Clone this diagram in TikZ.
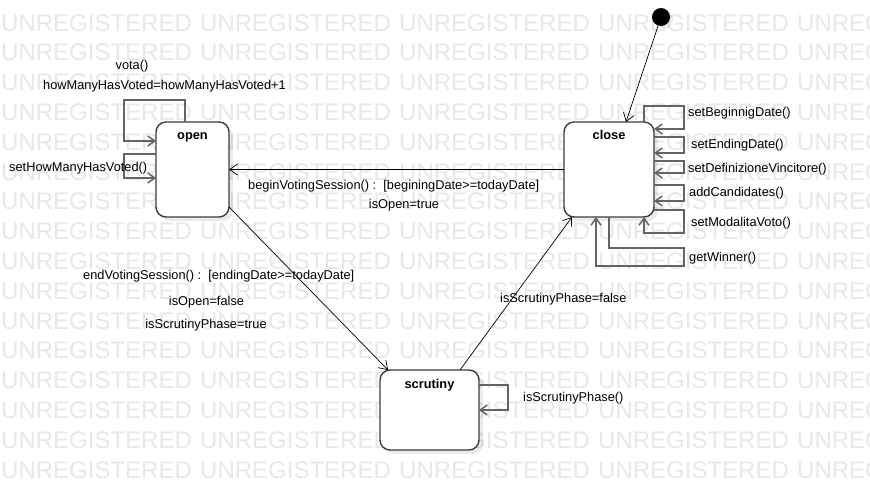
\documentclass[tikz,border=0pt]{standalone}
\usepackage{fontspec}
\setmainfont{Liberation Sans}
\usetikzlibrary{arrows.meta,calc,shadows}
\definecolor{wm}{RGB}{232,232,232}
\definecolor{boxline}{RGB}{60,60,60}
\definecolor{loopline}{RGB}{100,100,100}
\begin{document}
\begin{tikzpicture}[x=1pt,y=-1pt,
  wmark/.style={anchor=base west, inner sep=0pt, text=wm, font=\fontsize{24}{24}\selectfont},
  state/.style={draw=boxline, line width=1.4pt, rounded corners=10pt, fill=white, inner sep=0pt, outer sep=0pt,
    drop shadow={shadow xshift=4pt, shadow yshift=-4pt, opacity=0.08, fill=black}},
  stitle/.style={anchor=base, inner sep=0pt, font=\fontsize{12.8}{14}\selectfont\bfseries},
  lbl/.style={anchor=base west, inner sep=0pt, font=\fontsize{12.8}{14}\selectfont},
  clbl/.style={anchor=base, inner sep=0pt, font=\fontsize{12.8}{14}\selectfont},
  trans/.style={draw=black, line width=0.7pt, -{Straight Barb[length=8pt,width=11pt]}},
  selfloop/.style={draw=loopline, line width=1.5pt, -{Straight Barb[length=7pt,width=10pt]}}]
\useasboundingbox (0,0) rectangle (870,490);
\fill[white] (0,0) rectangle (870,490);
\begin{scope}
\clip (0,0) rectangle (870,490);
\foreach \r in {0,...,15}{
  \foreach \c in {0,...,4}{
    \node[wmark] (wm-\r-\c) at ({1+199*\c},{31+29.8*\r}) {UNREGISTERED};
  }
}
\end{scope}

% states
\node[state, minimum width=73pt, minimum height=95pt] (open) at (192.5,169.5) {};
\node[state, minimum width=90pt, minimum height=95pt] (close) at (609,169.5) {};
\node[state, minimum width=99pt, minimum height=80pt] (scrutiny) at (429.5,410) {};
\node[stitle] (openT) at (192.5,139) {open};
\node[stitle] (closeT) at (609,139) {close};
\node[stitle] (scrutinyT) at (429.5,388) {scrutiny};

% initial
\node[circle, fill=black, minimum size=18pt, inner sep=0pt,
  drop shadow={shadow xshift=3pt, shadow yshift=-3pt, opacity=0.08, fill=black}] (init) at (661,17) {};
\coordinate (closeIn) at ($(close.north west)+(62,0)$);
\draw[trans] (init) -- (closeIn);

% open self loops
\draw[selfloop] ($(open.north west)+(29,0)$) -- ++(0,-22) -- ++(-61,0) -- ++(0,41) -- ($(open.north west)+(0,19)$);
\draw[selfloop] ($(open.north west)+(0,32)$) -- ++(-32,0) -- ++(0,24) -- ($(open.north west)+(0,56)$);
\node[clbl] (lVota) at (132,69) {vota()};
\node[clbl] (lHow) at (164.5,89) {howManyHasVoted=howManyHasVoted+1};
\node[lbl] (lSetHow) at (9,171) {setHowManyHasVoted()};

% close self loops
\draw[selfloop] ($(close.north east)+(-10,0)$) -- ++(0,-16) -- ++(40,0) -- ++(0,23) -- ($(close.north east)+(0,7)$);
\draw[selfloop] ($(close.north east)+(0,15)$) -- ++(30,0) -- ++(0,16) -- ($(close.north east)+(0,31)$);
\draw[selfloop] ($(close.north east)+(0,39)$) -- ++(30,0) -- ++(0,12) -- ($(close.north east)+(0,51)$);
\draw[selfloop] ($(close.north east)+(0,63)$) -- ++(30,0) -- ++(0,16) -- ($(close.north east)+(0,79)$);
\draw[selfloop] ($(close.north east)+(0,88)$) -- ++(30,0) -- ++(0,23) -- ++(-40,0) -- ($(close.south east)+(-10,0)$);
\draw[selfloop] ($(close.south west)+(45,0)$) -- ++(0,31) -- ++(75,0) -- ++(0,18) -- ++(-88,0) -- ($(close.south west)+(32,0)$);
\node[lbl] (lSB) at (688,116) {setBeginnigDate()};
\node[lbl] (lSE) at (691,148.5) {setEndingDate()};
\node[lbl] (lSD) at (688,172.5) {setDefinizioneVincitore()};
\node[lbl] (lAC) at (689,196) {addCandidates()};
\node[lbl] (lSM) at (691,226.5) {setModalitaVoto()};
\node[lbl] (lGW) at (689,261.5) {getWinner()};

% scrutiny self loop
\draw[selfloop] ($(scrutiny.north east)+(0,15)$) -- ++(29,0) -- ++(0,25) -- ($(scrutiny.north east)+(0,40)$);
\node[lbl] (lISP) at (523,401.5) {isScrutinyPhase()};

% transitions
\draw[trans] (close.west) -- (open.east);
\node[lbl] (lBegin) at (248,189.5) {beginVotingSession() :\ \ [beginingDate>=todayDate]};
\node[clbl] (lOpenT) at (404,208) {isOpen=true};

\coordinate (openOut) at ($(open.south east)+(0,-10)$);
\coordinate (scrIn) at ($(scrutiny.north west)+(8,0)$);
\draw[trans] (openOut) -- (scrIn);
\node[lbl] (lEnd) at (83,279) {endVotingSession() :\ \ [endingDate>=todayDate]};
\node[clbl] (lOpenF) at (206.5,305) {isOpen=false};
\node[clbl] (lScrT) at (206,328) {isScrutinyPhase=true};

\coordinate (scrOut) at ($(scrutiny.north east)+(-19,0)$);
\coordinate (closeIn2) at ($(close.south west)+(8,0)$);
\draw[trans] (scrOut) -- (closeIn2);
\node[lbl] (lScrF) at (500,302) {isScrutinyPhase=false};
\end{tikzpicture}
\end{document}
